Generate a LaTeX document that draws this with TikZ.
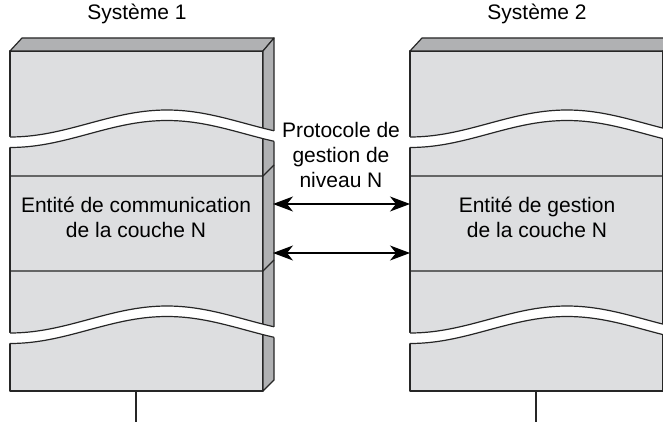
\documentclass[tikz,border=0pt]{standalone}
\usepackage{fontspec}
\setmainfont{Liberation Sans}
\usetikzlibrary{arrows.meta, positioning}
\definecolor{facegris}{RGB}{221,222,224}
\definecolor{flancgris}{RGB}{176,177,179}

\begin{document}
\begin{tikzpicture}[x=1pt, y=-1pt,
    trait/.style={draw=black!85, line width=1.2pt, line join=round},
    face/.style={trait, fill=facegris},
    flanc/.style={trait, fill=flancgris},
    vague/.style={draw=black!85, line width=1.2pt},
    texte/.style={font=\fontsize{21}{25}\selectfont, align=center, inner sep=0pt},
    fleche/.style={{Stealth[length=20pt,width=15pt,inset=6pt]}-{Stealth[length=20pt,width=15pt,inset=6pt]}, line width=1.2pt},
    declare function={onde(\t)=-13.5*cos((\t-167)*1.1465);}]
    \useasboundingbox (0,0) rectangle (663,422);
    \clip (0,0) rectangle (663,422);

    \foreach \sx in {0,400} {
      \begin{scope}[shift={(\sx,0)}]
        \draw[face] (10,51) rectangle (263,391);
        \draw[flanc] (10,51) -- (22,38) -- (274,38) -- (263,51) -- cycle;
        \draw[flanc] (263,51) -- (274,38) -- (274,380) -- (263,391) -- cycle;
        \draw[trait] (10,176) -- (263,176) -- (274,165);
        \draw[trait] (10,271) -- (263,271) -- (274,260);
        \foreach \yc in {123.5,319.5} {
          \fill[white] plot[domain=7:277, samples=60] (\x,{\yc+onde(\x)})
            -- plot[domain=277:7, samples=60] (\x,{\yc+10.5+onde(\x)}) -- cycle;
          \draw[vague] plot[domain=10:274, samples=60] (\x,{\yc+onde(\x)});
          \draw[vague] plot[domain=10:274, samples=60] (\x,{\yc+10.5+onde(\x)});
        }
      \end{scope}
    }

    \node[texte] (sys1) at (137,14) {Système 1};
    \node[texte] (sys2) at (537,14) {Système 2};
    \node[texte] (ent1) at (136,217) {Entité de communication\\de la couche N};
    \node[texte] (ent2) at (537,217) {Entité de gestion\\de la couche N};
    \node[texte] (proto) at (341,155) {Protocole de\\gestion de\\niveau N};

    \coordinate (g1) at (273,204);
    \coordinate (d1) at (410,204);
    \coordinate (g2) at (273,253);
    \coordinate (d2) at (410,253);
    \draw[fleche] (g1) -- (d1);
    \draw[fleche] (g2) -- (d2);

    \coordinate (b1) at (136,391);
    \coordinate (p1) at (136,422);
    \coordinate (b2) at (536,391);
    \coordinate (p2) at (536,422);
    \draw[trait] (b1) -- (p1);
    \draw[trait] (b2) -- (p2);
\end{tikzpicture}
\end{document}
